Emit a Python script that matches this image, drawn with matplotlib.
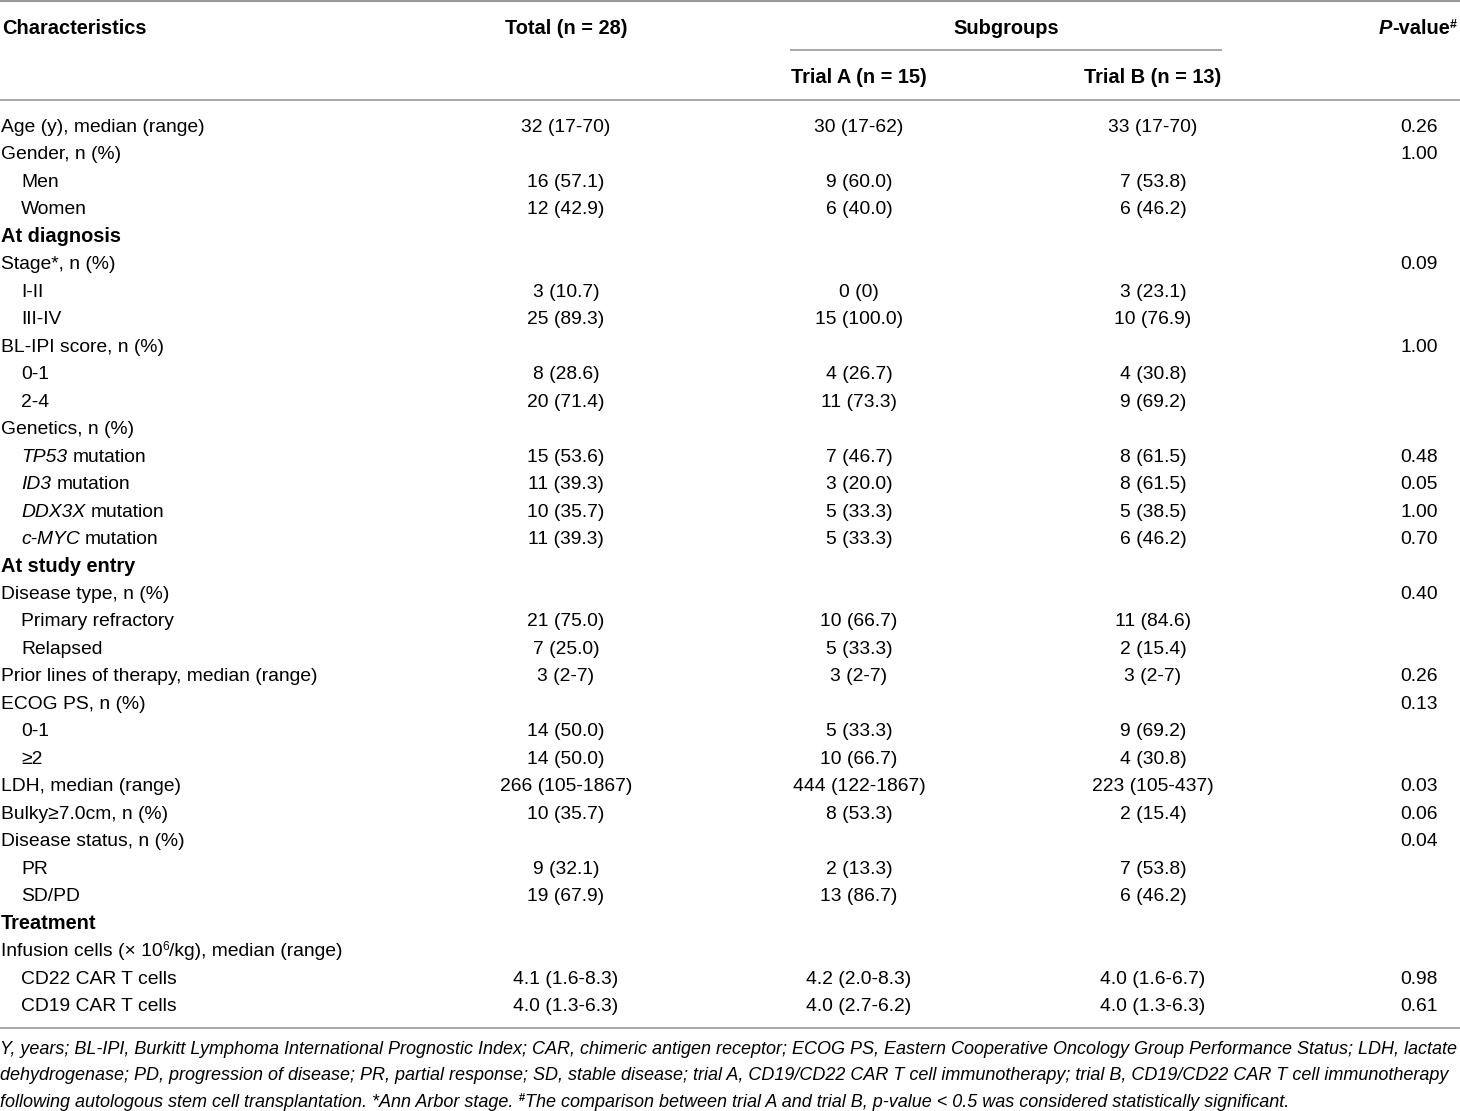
import matplotlib
matplotlib.use("Agg")
import matplotlib.pyplot as plt

plt.rcParams['font.family'] = ['Liberation Sans', 'DejaVu Sans']

# table content
labels = [
    "Age (y), median (range)", "Gender, n (%)", "Men", "Women",
    "At diagnosis", "Stage*, n (%)", "I-II", "III-IV",
    "BL-IPI score, n (%)", "0-1", "2-4", "Genetics, n (%)",
    "TP53| mutation", "ID3| mutation", "DDX3X| mutation", "c-MYC| mutation",
    "At study entry", "Disease type, n (%)", "Primary refractory", "Relapsed",
    "Prior lines of therapy, median (range)", "ECOG PS, n (%)", "0-1", "\u22652",
    "LDH, median (range)", "Bulky\u22657.0cm, n (%)", "Disease status, n (%)",
    "PR", "SD/PD", "Treatment",
    "Infusion cells (\u00d7 10^6^/kg), median (range)",
    "CD22 CAR T cells", "CD19 CAR T cells",
]
# 0 = item, 1 = indented sub-item, 2 = bold section heading
levels = [0, 0, 1, 1, 2, 0, 1, 1, 0, 1, 1, 0, 1, 1, 1, 1, 2, 0, 1, 1,
          0, 0, 1, 1, 0, 0, 0, 1, 1, 2, 0, 1, 1]
total = ["32 (17-70)", "", "16 (57.1)", "12 (42.9)", "", "", "3 (10.7)", "25 (89.3)",
         "", "8 (28.6)", "20 (71.4)", "", "15 (53.6)", "11 (39.3)", "10 (35.7)", "11 (39.3)",
         "", "", "21 (75.0)", "7 (25.0)", "3 (2-7)", "", "14 (50.0)", "14 (50.0)",
         "266 (105-1867)", "10 (35.7)", "", "9 (32.1)", "19 (67.9)", "", "",
         "4.1 (1.6-8.3)", "4.0 (1.3-6.3)"]
trial_a = ["30 (17-62)", "", "9 (60.0)", "6 (40.0)", "", "", "0 (0)", "15 (100.0)",
           "", "4 (26.7)", "11 (73.3)", "", "7 (46.7)", "3 (20.0)", "5 (33.3)", "5 (33.3)",
           "", "", "10 (66.7)", "5 (33.3)", "3 (2-7)", "", "5 (33.3)", "10 (66.7)",
           "444 (122-1867)", "8 (53.3)", "", "2 (13.3)", "13 (86.7)", "", "",
           "4.2 (2.0-8.3)", "4.0 (2.7-6.2)"]
trial_b = ["33 (17-70)", "", "7 (53.8)", "6 (46.2)", "", "", "3 (23.1)", "10 (76.9)",
           "", "4 (30.8)", "9 (69.2)", "", "8 (61.5)", "8 (61.5)", "5 (38.5)", "6 (46.2)",
           "", "", "11 (84.6)", "2 (15.4)", "3 (2-7)", "", "9 (69.2)", "4 (30.8)",
           "223 (105-437)", "2 (15.4)", "", "7 (53.8)", "6 (46.2)", "", "",
           "4.0 (1.6-6.7)", "4.0 (1.3-6.3)"]
p_values = ["0.26", "1.00", "", "", "", "0.09", "", "", "1.00", "", "", "",
            "0.48", "0.05", "1.00", "0.70", "", "0.40", "", "", "0.26", "0.13", "", "",
            "0.03", "0.06", "0.04", "", "", "", "", "0.98", "0.61"]

footnotes = [
    "Y, years; BL-IPI, Burkitt Lymphoma International Prognostic Index; CAR, chimeric antigen receptor; "
    "ECOG PS, Eastern Cooperative Oncology Group Performance Status; LDH, lactate",
    "dehydrogenase; PD, progression of disease; PR, partial response; SD, stable disease; trial A, "
    "CD19/CD22 CAR T cell immunotherapy; trial B, CD19/CD22 CAR T cell immunotherapy",
    "following autologous stem cell transplantation. *Ann Arbor stage. ^#^The comparison "
    "between trial A and trial B, p-value < 0.5 was considered statistically significant.",
]

fig = plt.figure(figsize=(14.6, 11.11), dpi=100)
ax = fig.add_axes([0, 0, 1, 1])
ax.set_xlim(0, 1460)
ax.set_ylim(1111, 0)
ax.axis('off')
renderer = fig.canvas.get_renderer()


def text_w(s, **kw):
    if not s:
        return 0.0
    t = ax.text(0, 0, s, **kw)
    w = t.get_window_extent(renderer).width
    t.remove()
    return w


def part_w(s, **kw):
    sp = text_w("a a", **kw) - text_w("aa", **kw)
    core = s.strip()
    lead = len(s) - len(s.lstrip())
    trail = len(s) - len(s.rstrip())
    return text_w(core, **kw) + (lead + trail) * sp, lead * sp


def draw_runs(x, y, parts, ha='left'):
    # parts: list of (string, style dict); style may hold 'sup': True
    items = []
    for s, st in parts:
        st = dict(st)
        sup = st.pop('sup', False)
        if sup:
            st['fontsize'] = st['fontsize'] * 0.62
        w, lead = part_w(s, **st)
        items.append((s.strip(), st, sup, w, lead))
    tot = sum(it[3] for it in items)
    if ha == 'center':
        x -= tot / 2
    elif ha == 'right':
        x -= tot
    for s, st, sup, w, lead in items:
        yy = y - (st['fontsize'] / 0.62) * 0.45 if sup else y
        if s:
            ax.text(x + lead, yy, s, ha='left', va='baseline', **st)
        x += w


def parse_label(lab, base):
    # "A|B" -> italic A, normal B ; "^x^" -> superscript x
    if '|' in lab:
        a, b = lab.split('|')
        return [(a, dict(base, fontstyle='italic')), (b, base)]
    out = []
    for k, piece in enumerate(lab.split('^')):
        if k % 2 == 1:
            out.append((piece, dict(base, sup=True)))
        else:
            out.append((piece, base))
    return out


fs = 13.85
fs_head = 14.4
line_col = '#9a9a9a'
x_tot, x_a, x_b, x_p = 566, 859, 1153, 1438

# rules
ax.hlines(1, 0, 1460, color=line_col, lw=1.5)
ax.hlines(50, 790, 1222, color=line_col, lw=1.2)
ax.hlines(100, 0, 1460, color=line_col, lw=1.2)
ax.hlines(1028, 0, 1460, color=line_col, lw=1.2)

# header
bold = dict(fontsize=fs_head, fontweight='bold')
hb = 34
ax.text(2, hb, "Characteristics", ha='left', va='baseline', **bold)
ax.text(x_tot, hb, "Total (n = 28)", ha='center', va='baseline', **bold)
ax.text(1006, hb, "Subgroups", ha='center', va='baseline', **bold)
draw_runs(1457, hb, [("P", dict(bold, fontstyle='italic')), ("-value", bold),
                     ("#", dict(bold, sup=True))], ha='right')
ax.text(x_a, 83, "Trial A (n = 15)", ha='center', va='baseline', **bold)
ax.text(x_b, 83, "Trial B (n = 13)", ha='center', va='baseline', **bold)

# body
y0, dy = 125, 27.47
for i, lab in enumerate(labels):
    yb = y0 + i * dy + 7
    lv = levels[i]
    if lv == 2:
        base = dict(fontsize=fs_head, fontweight='bold')
    else:
        base = dict(fontsize=fs, fontweight='normal')
    draw_runs(21 if lv == 1 else 1, yb, parse_label(lab, base))
    ax.text(x_tot, yb, total[i], fontsize=fs, ha='center', va='baseline')
    ax.text(x_a, yb, trial_a[i], fontsize=fs, ha='center', va='baseline')
    ax.text(x_b, yb, trial_b[i], fontsize=fs, ha='center', va='baseline')
    ax.text(x_p, yb, p_values[i], fontsize=fs, ha='right', va='baseline')

# footnotes: size chosen so the first line spans the page width
fn_fs = 13.0 * 1456 / text_w(footnotes[0], fontsize=13.0, fontstyle='italic')
for j, fn in enumerate(footnotes):
    base = dict(fontsize=fn_fs, fontstyle='italic')
    parts = []
    for k, piece in enumerate(fn.split('^')):
        if k % 2 == 1:
            parts.append((piece, dict(fontsize=fn_fs, fontweight='bold', sup=True)))
        else:
            parts.append((piece, base))
    draw_runs(0, 1054 + j * 26.5, parts)

fig.savefig("out.png", dpi=100, facecolor='white')
